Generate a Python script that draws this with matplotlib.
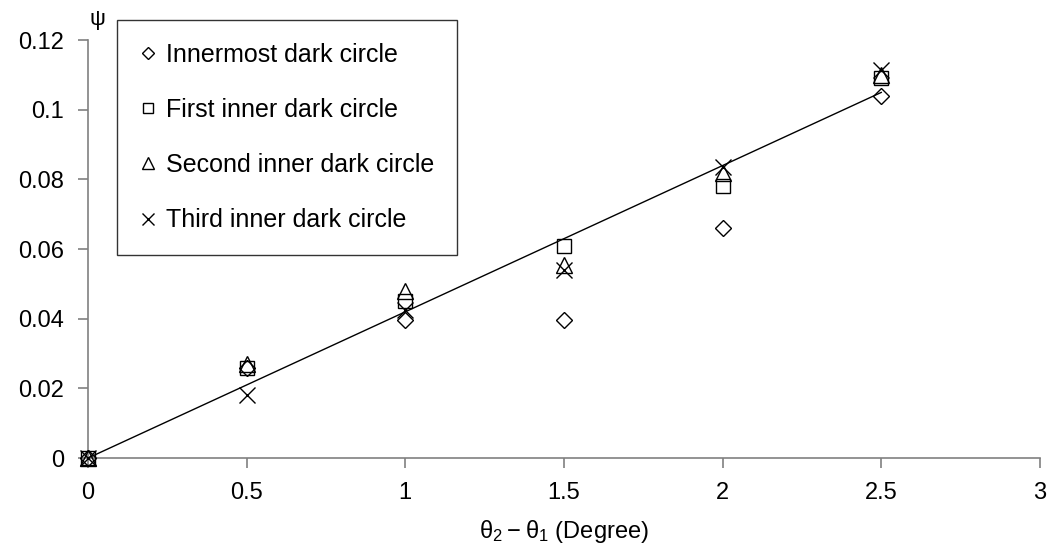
import numpy as np
import matplotlib.pyplot as plt

plt.rcParams['font.family'] = ['Liberation Sans', 'DejaVu Sans']

# data
x = [0, 0.5, 1, 1.5, 2, 2.5]
innermost = [0, 0.026, 0.0396, 0.0396, 0.066, 0.104]
first_inner = [0, 0.026, 0.045, 0.061, 0.078, 0.109]
second_inner = [0, 0.027, 0.048, 0.0555, 0.082, 0.110]
third_inner = [0, 0.018, 0.0425, 0.054, 0.0835, 0.1115]
fit_x = [0, 2.5]
fit_y = [0, 0.105]

fig = plt.figure(figsize=(10.59, 5.58), dpi=100)
ax = fig.add_axes([0.083, 0.179, 0.899, 0.749])

ax.plot(fit_x, fit_y, color='black', lw=1.0, zorder=2)

mk = dict(ls='none', mfc='none', mec='black', mew=1.0, clip_on=False, zorder=3)
ax.plot(x, innermost, marker='D', ms=8, label='Innermost dark circle', **mk)
ax.plot(x, first_inner, marker='s', ms=10, label='First inner dark circle', **mk)
ax.plot(x, second_inner, marker='^', ms=11, label='Second inner dark circle', **mk)
ax.plot(x, third_inner, marker='x', ms=11, color='black', label='Third inner dark circle', **mk)

ax.set_xlim(0, 3)
ax.set_ylim(0, 0.12)
ax.set_xticks([0, 0.5, 1, 1.5, 2, 2.5, 3])
ax.set_xticklabels(['0', '0.5', '1', '1.5', '2', '2.5', '3'])
ax.set_yticks([0, 0.02, 0.04, 0.06, 0.08, 0.1, 0.12])
ax.set_yticklabels(['0', '0.02', '0.04', '0.06', '0.08', '0.1', '0.12'])

for s in ['top', 'right']:
    ax.spines[s].set_visible(False)
for s in ['left', 'bottom']:
    ax.spines[s].set_color('#808080')
    ax.spines[s].set_linewidth(1.2)
ax.tick_params(direction='out', length=7, width=1.2, color='#808080',
               labelsize=17, pad=10)

ax.set_xlabel(r'$\mathregular{\theta_2 - \theta_1}$ (Degree)', fontsize=17, labelpad=10)
fig.text(0.092, 0.965, 'ψ', fontsize=16, ha='center', va='center')

leg = ax.legend(loc='upper left', bbox_to_anchor=(117 / 1059, 1 - 20 / 558),
                bbox_transform=fig.transFigure, fontsize=18, frameon=True,
                fancybox=False, edgecolor='black', handlelength=0.7,
                handletextpad=0.35, labelspacing=1.25, borderpad=0.9,
                borderaxespad=0, markerscale=0.75)
leg.get_frame().set_linewidth(1.0)

fig.savefig('out.png', dpi=100)
